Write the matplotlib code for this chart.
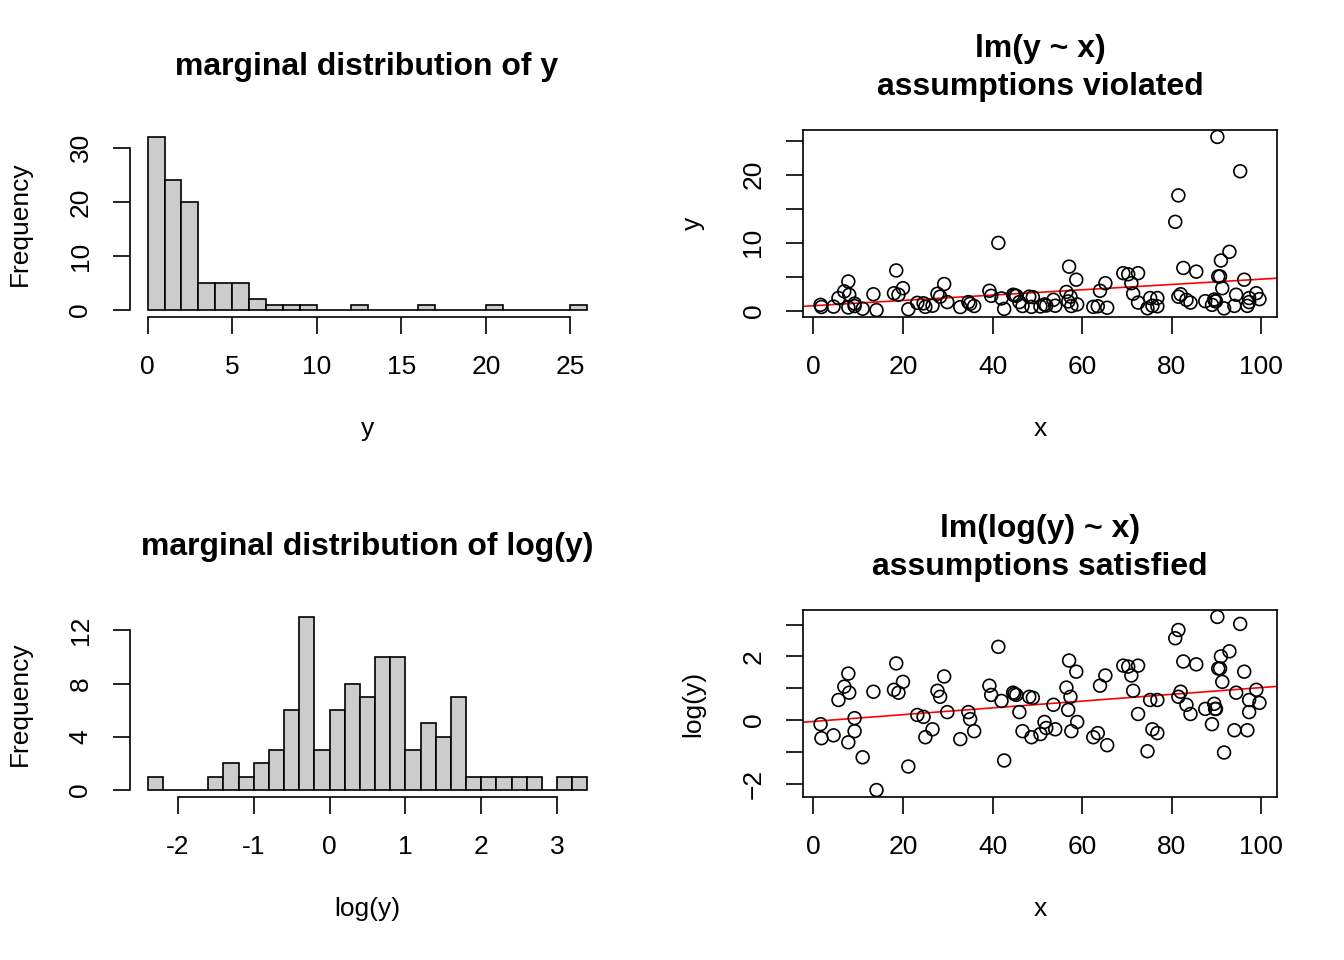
import numpy as np
import matplotlib.pyplot as plt

plt.rcParams['font.family'] = ['Liberation Sans', 'DejaVu Sans']

# histogram of y: bins of width 1 from 0 to 26
y_edges = np.arange(0, 27, 1)
y_counts = [32, 24, 20, 5, 5, 5, 2, 1, 1, 1, 0, 0, 1, 0, 0, 0, 1, 0, 0, 0, 1, 0, 0, 0, 0, 1]

# histogram of log(y): bins of width 0.2 from -2.4 to 3.4
logy_edges = np.round(np.arange(-2.4, 3.41, 0.2), 1)
logy_counts = [1, 0, 0, 0, 1, 2, 1, 2, 3, 6, 13, 3, 6, 8, 7, 10, 10, 3, 5, 4, 7,
               1, 1, 1, 1, 1, 0, 1, 1]

x_pts = [1.6, 1.8, 4.5, 5.6, 6.9, 7.8, 8.0, 7.8, 9.2, 9.2, 11.0, 13.4, 14.1, 18.0, 18.5, 19.0,
         20.0, 21.2, 23.2, 24.6, 25.0, 26.6, 27.7, 28.3, 29.2, 29.9, 32.8, 34.6, 35.0, 35.9,
         39.3, 39.7, 41.3, 42.0, 42.6, 44.6, 45.3, 46.0, 46.7, 48.2, 49.0, 48.7, 50.7, 51.6,
         52.0, 53.6, 54.0, 56.5, 57.1, 57.4, 57.6, 56.9, 58.7, 58.9, 63.5, 64.0, 62.5, 65.2,
         65.6, 69.2, 70.3, 71.0, 71.4, 72.5, 72.5, 74.6, 75.2, 75.7, 76.8, 76.8, 80.8, 81.5,
         82.0, 81.5, 82.6, 83.3, 84.2, 85.5, 87.5, 89.0, 89.5, 89.7, 90.2, 90.4, 91.0, 91.3,
         91.7, 92.9, 94.0, 94.4, 95.3, 96.2, 96.9, 97.3, 97.3, 98.9, 99.6, 90.8, 89.9, 44.9]
logy_pts = [-0.13, -0.57, -0.48, 0.63, 1.05, 1.46, 0.86, -0.70, 0.06, -0.35, -1.17, 0.89, -2.2,
            0.95, 1.78, 0.86, 1.20, -1.46, 0.16, 0.10, -0.54, -0.29, 0.92, 0.73, 1.37, 0.25,
            -0.60, 0.25, 0.03, -0.35, 1.08, 0.79, 2.30, 0.60, -1.27, 0.86, 0.79, 0.25, -0.35,
            0.73, 0.70, -0.54, -0.44, -0.06, -0.25, 0.48, -0.29, 1.02, 1.87, 0.73, -0.35, 0.32,
            1.52, -0.06, -0.41, 1.08, -0.54, 1.40, -0.79, 1.71, 1.68, 1.40, 0.92, 1.71, 0.19,
            -0.98, 0.63, -0.29, -0.41, 0.63, 2.57, 2.83, 0.89, 0.73, 1.84, 0.48, 0.19, 1.75,
            0.35, -0.13, 0.51, 0.35, 3.24, 1.62, 2.00, 1.20, -1.02, 2.16, -0.32, 0.86, 3.02,
            1.52, -0.32, 0.63, 0.25, 0.95, 0.54, 1.62, 0.35, 0.82]

x_pts = np.array(x_pts)
logy_pts = np.array(logy_pts)
y_pts = np.exp(logy_pts)

FS = 19
TFS = 23
fig = plt.figure(figsize=(13.44, 9.6), dpi=100)
L = [130 / 1344, 475 / 1344]
R = [803 / 1344, 474 / 1344]
TOP = 1 - 317 / 960
BOT = 1 - 797 / 960
H = 187 / 960


def style(ax, box):
    ax.tick_params(which='both', labelsize=FS, length=12, width=1.2, pad=15, direction='out')
    for lab in ax.get_yticklabels():
        lab.set_rotation(90)
        lab.set_va('center')
    if not box:
        ax.spines['top'].set_visible(False)
        ax.spines['right'].set_visible(False)
    for s in ax.spines.values():
        s.set_linewidth(1.2)
    ax.yaxis.set_label_coords(-0.232, 0.5)


def hist(pos, edges, counts, xt, yt, xlab):
    ax = fig.add_axes([pos[0][0], pos[1], pos[0][1], H])
    edges = np.array(edges, dtype=float)
    ax.bar(edges[:-1], counts, width=np.diff(edges), align='edge', color='#cccccc',
           edgecolor='black', linewidth=1.2)
    ax.set_xticks(xt)
    ax.set_xticklabels([str(v) for v in xt])
    ax.set_yticks(yt)
    span = edges[-1] - edges[0]
    ax.set_xlim(edges[0] - 0.04 * span, edges[-1] + 0.04 * span)
    m = max(counts)
    ax.set_ylim(-0.04 * m, m * 1.04)
    ax.spines['bottom'].set_bounds(xt[0], xt[-1])
    ax.spines['left'].set_bounds(yt[0], yt[-1])
    ax.set_xlabel(xlab, fontsize=FS, labelpad=28)
    ax.set_ylabel('Frequency', fontsize=FS, va='center')
    style(ax, False)
    return ax


def scat(pos, xs, ys, yt, step, ylab):
    ax = fig.add_axes([pos[0][0], pos[1], pos[0][1], H])
    ax.scatter(xs, ys, s=85, facecolors='none', edgecolors='black', linewidths=1.2, zorder=3)
    b, a = np.polyfit(xs, ys, 1)
    xl = np.array([-10, 110])
    ax.plot(xl, a + b * xl, color='red', linewidth=1.2)
    r = ys.max() - ys.min()
    lo, hi = ys.min() - 0.04 * r, ys.max() + 0.04 * r
    ax.set_xticks([0, 20, 40, 60, 80, 100])
    ax.set_yticks(yt)
    minor = np.arange(np.ceil(lo / step) * step, hi, step)
    ax.set_yticks(minor, minor=True)
    ax.set_xlim(xs.min() - 0.04 * (xs.max() - xs.min()), xs.max() + 0.04 * (xs.max() - xs.min()))
    ax.set_ylim(lo, hi)
    ax.set_xlabel('x', fontsize=FS, labelpad=28)
    ax.set_ylabel(ylab, fontsize=FS, va='center')
    style(ax, True)
    return ax


hist((L, TOP), y_edges, y_counts, [0, 5, 10, 15, 20, 25], [0, 10, 20, 30], 'y')
hist((L, BOT), logy_edges, logy_counts, [-2, -1, 0, 1, 2, 3], [0, 4, 8, 12], 'log(y)')
scat((R, TOP), x_pts, y_pts, [0, 10, 20], 5, 'y')
scat((R, BOT), x_pts, logy_pts, [-2, 0, 2], 1, 'log(y)')

kw = dict(fontsize=TFS, fontweight='bold', ha='center', va='center', linespacing=1.35)
fig.text(367 / 1344, 1 - 67 / 960, 'marginal distribution of y', **kw)
fig.text(367 / 1344, 1 - 547 / 960, 'marginal distribution of log(y)', **kw)
fig.text(1040 / 1344, 1 - 68 / 960, 'lm(y ~ x)\nassumptions violated', **kw)
fig.text(1040 / 1344, 1 - 548 / 960, 'lm(log(y) ~ x)\nassumptions satisfied', **kw)

fig.savefig('out.png', dpi=100)
